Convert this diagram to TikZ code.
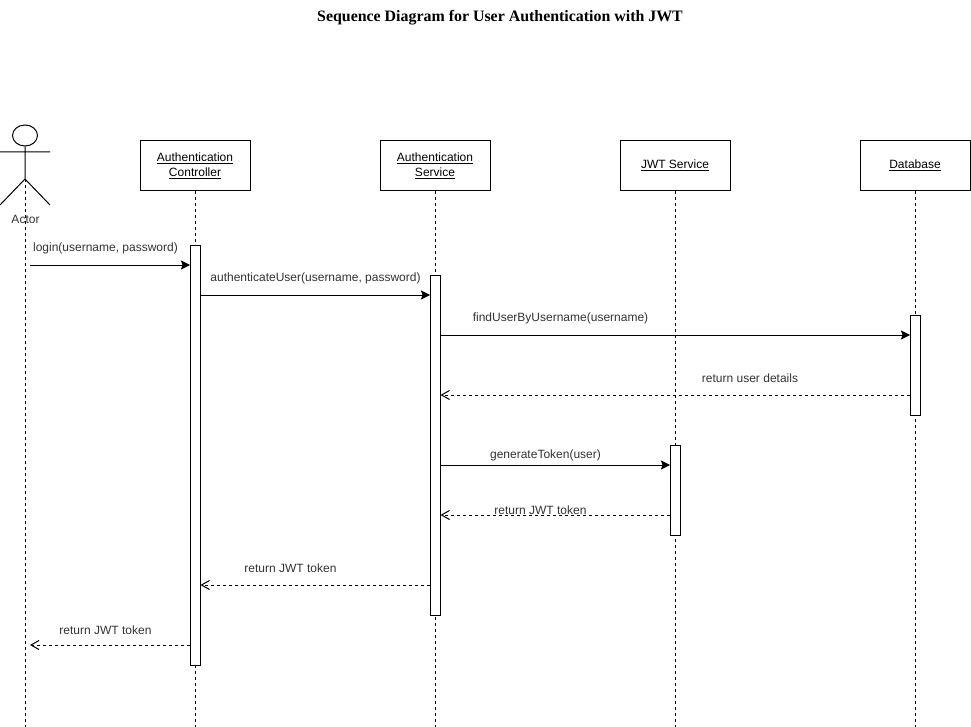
\documentclass[tikz,border=0pt]{standalone}
\usepackage{fontspec}
\setmainfont{Liberation Sans}
\newfontfamily\titlefont{Liberation Serif}
\usetikzlibrary{arrows.meta,shapes.geometric}
\tikzset{
	obj/.style={draw, line width=1pt, minimum width=110pt, minimum height=50pt, align=center, inner sep=0pt, fill=white},
	bar/.style={draw, line width=1pt, fill=white, minimum width=10pt, inner sep=0pt, anchor=north},
	lifeline/.style={dash pattern=on 3pt off 3pt, line width=1pt},
	call/.style={-{Stealth[length=9pt,width=9pt,inset=1.5pt]}, line width=1pt, shorten >=-.5pt},
	ret/.style={-{Straight Barb[length=8pt,width=9pt]}, dash pattern=on 3pt off 3pt, line width=1pt},
	msg/.style={text=black!80, inner sep=0pt}
}
\begin{document}
\begin{tikzpicture}[x=1pt,y=-1pt,font=\fontsize{12}{15}\selectfont]
	\useasboundingbox (0,0) rectangle (971,727);
	\node (title) at (500,17.5) {\titlefont\bfseries\fontsize{15.9}{18}\selectfont Sequence Diagram for User Authentication with JWT};

	% actor
	\node (head) [draw, line width=1pt, ellipse, minimum width=25pt, minimum height=21pt, inner sep=0pt] at (25,135.5) {};
	\coordinate (armL) at (0,152);
	\coordinate (armR) at (50,152);
	\coordinate (hip) at (25,179);
	\coordinate (legL) at (0,205);
	\coordinate (legR) at (50,205);
	\draw [line width=1pt] (head) -- (hip) (armL) -- (armR) (legL) -- (hip) -- (legR);
	\node (actor) [msg] at (25.5,219.5) {Actor};

	% objects
	\node (ctrl) [obj] at (195,165.5) {\underline{Authentication}\\\underline{Controller}};
	\node (svc) [obj] at (435,165.5) {\underline{Authentication}\\\underline{Service}};
	\node (jwt) [obj] at (675,165.5) {\underline{JWT Service}};
	\node (db) [obj] at (915,165.5) {\underline{Database}};

	% lifelines
	\coordinate (actorend) at (25,727);
	\coordinate (ctrlend) at (195,727);
	\coordinate (svcend) at (435,727);
	\coordinate (jwtend) at (675,727);
	\coordinate (dbend) at (915,727);
	\path
	(hip) edge [lifeline] (actorend)
	(ctrl) edge [lifeline] (ctrlend)
	(svc) edge [lifeline] (svcend)
	(jwt) edge [lifeline] (jwtend)
	(db) edge [lifeline] (dbend);

	% activations
	\node (ctrlbar) [bar, minimum height=420pt] at (195,245) {};
	\node (svcbar) [bar, minimum height=340pt] at (435,275) {};
	\node (jwtbar) [bar, minimum height=90pt] at (675,445) {};
	\node (dbbar) [bar, minimum height=100pt] at (915,315) {};

	% message levels
	\coordinate (actorx) at (30,0);
	\foreach \name/\y in {m1/265, m2/295, m3/335, m4/395, m5/465, m6/515, m7/585, m8/645}
		\coordinate (\name) at (0,\y);

	\path
	(actorx |- m1) edge [call] (ctrlbar.west |- m1)
	(ctrlbar.east |- m2) edge [call] (svcbar.west |- m2)
	(svcbar.east |- m3) edge [call] (dbbar.west |- m3)
	(dbbar.west |- m4) edge [ret] (svcbar.east |- m4)
	(svcbar.east |- m5) edge [call] (jwtbar.west |- m5)
	(jwtbar.west |- m6) edge [ret] (svcbar.east |- m6)
	(svcbar.west |- m7) edge [ret] (ctrlbar.east |- m7)
	(ctrlbar.west |- m8) edge [ret] (actorx |- m8);

	% labels
	\node (l1) [msg] at (105.5,248.5) {login(username, password)};
	\node (l2) [msg] at (315.5,278.5) {authenticateUser(username, password)};
	\node (l3) [msg] at (560.5,318.5) {findUserByUsername(username)};
	\node (l4) [msg] at (750,378.5) {return user details};
	\node (l5) [msg] at (545.5,455.5) {generateToken(user)};
	\node (l6) [msg] at (540.5,510.5) {return JWT token};
	\node (l7) [msg] at (290.5,568.5) {return JWT token};
	\node (l8) [msg] at (105.5,630.5) {return JWT token};
\end{tikzpicture}
\end{document}
